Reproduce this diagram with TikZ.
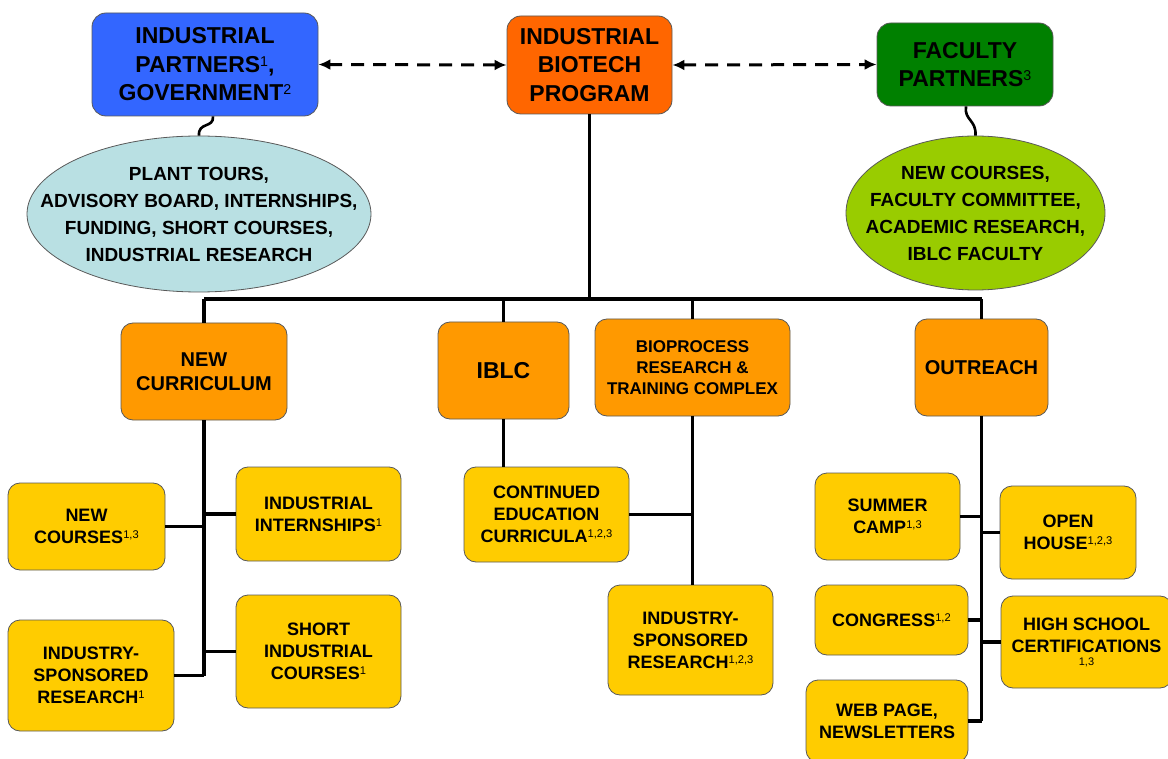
\documentclass[tikz,border=0pt]{standalone}
\usepackage{fontspec}
\setmainfont{Liberation Sans}
\usepackage{xcolor}
\usepackage{tikz}
\usetikzlibrary{shapes.geometric, arrows.meta}

\definecolor{partblue}{HTML}{3366FF}
\definecolor{progorange}{HTML}{FF6600}
\definecolor{facgreen}{HTML}{008000}
\definecolor{indcyan}{HTML}{B9E0E3}
\definecolor{faclime}{HTML}{99CC00}
\definecolor{unitorange}{HTML}{FF9900}
\definecolor{itemyellow}{HTML}{FFCC00}

\newcommand\supnum[1]{\raisebox{0.27em}{\scalebox{0.62}{\mdseries #1}}}

\begin{document}
\begin{tikzpicture}[x=1pt, y=-1pt,
    box/.style={draw=black!65, line width=0.8pt, rounded corners=12pt, align=center,
        inner sep=0pt, font=\fontsize{18}{22}\selectfont\bfseries},
    topbox/.style={box, rounded corners=14pt, font=\fontsize{23}{28.5}\selectfont\bfseries},
    unit/.style={box, fill=unitorange, font=\fontsize{20}{24}\selectfont\bfseries},
    item/.style={box, fill=itemyellow},
    bubble/.style={ellipse, draw=black!65, line width=0.8pt, inner sep=0pt},
    bubbletext/.style={align=center, inner sep=0pt, font=\fontsize{19}{27}\selectfont\bfseries},
    link/.style={line width=3.2pt},
    squig/.style={line width=2.6pt},
    both/.style={line width=3pt, dash pattern=on 13pt off 9pt,
        {Latex[length=12pt,width=11pt]}-{Latex[length=12pt,width=11pt]}}]
        \useasboundingbox (0,0) rectangle (1168,759);

        % top row
        \node[topbox, fill=partblue, minimum width=226, minimum height=103] (indpart) at (205,64.5)
            {INDUSTRIAL\\PARTNERS\supnum{1},\\GOVERNMENT\supnum{2}};
        \node[topbox, fill=progorange, minimum width=165, minimum height=98] (prog) at (589.5,65)
            {INDUSTRIAL\\BIOTECH\\PROGRAM};
        \node[topbox, fill=facgreen, minimum width=176, minimum height=83] (facpart) at (965,64.5)
            {FACULTY\\PARTNERS\supnum{3}};

        \node[bubble, fill=indcyan, minimum width=344, minimum height=156] (indroles) at (199,214) {};
        \node[bubbletext] at (indroles)
            {PLANT TOURS,\\ADVISORY BOARD, INTERNSHIPS,\\FUNDING, SHORT COURSES,\\INDUSTRIAL RESEARCH};
        \node[bubble, fill=faclime, minimum width=259, minimum height=154] (facroles) at (975.5,213) {};
        \node[bubbletext] at (facroles)
            {NEW COURSES,\\FACULTY COMMITTEE,\\ACADEMIC RESEARCH,\\IBLC FACULTY};

        % program units
        \node[unit, minimum width=166, minimum height=97] (newcur) at (204,371.5) {NEW\\CURRICULUM};
        \node[unit, minimum width=131, minimum height=97, font=\fontsize{23}{28}\selectfont\bfseries]
            (iblc) at (503.5,370.5) {IBLC};
        \node[unit, minimum width=195, minimum height=97, font=\fontsize{17}{21}\selectfont\bfseries]
            (bioproc) at (692.5,367.5) {BIOPROCESS\\RESEARCH \&\\TRAINING COMPLEX};
        \node[unit, minimum width=133, minimum height=97] (outreach) at (981.5,367.5) {OUTREACH};

        % activities
        \node[item, minimum width=157, minimum height=87] (newcourses) at (86.5,526.5)
            {NEW\\COURSES\supnum{1,3}};
        \node[item, minimum width=165, minimum height=94] (intern) at (318.5,514)
            {INDUSTRIAL\\INTERNSHIPS\supnum{1}};
        \node[item, minimum width=166, minimum height=111] (sponsA) at (91,675.5)
            {INDUSTRY-\\SPONSORED\\RESEARCH\supnum{1}};
        \node[item, minimum width=165, minimum height=113] (shortcourses) at (318.5,651.5)
            {SHORT\\INDUSTRIAL\\COURSES\supnum{1}};
        \node[item, minimum width=165, minimum height=95] (contedu) at (546.5,514.5)
            {CONTINUED\\EDUCATION\\CURRICULA\supnum{1,2,3}};
        \node[item, minimum width=165, minimum height=110] (sponsB) at (690.5,640)
            {INDUSTRY-\\SPONSORED\\RESEARCH\supnum{1,2,3}};
        \node[item, minimum width=145, minimum height=87] (camp) at (887.5,516.5)
            {SUMMER\\CAMP\supnum{1,3}};
        \node[item, minimum width=136, minimum height=93] (openhouse) at (1068,532.5)
            {OPEN\\HOUSE\supnum{1,2,3}};
        \node[item, minimum width=153, minimum height=70] (congress) at (891.5,620)
            {CONGRESS\supnum{1,2}};
        \node[item, minimum width=171, minimum height=92] (highschool) at (1086.5,642)
            {HIGH SCHOOL\\CERTIFICATIONS\\[-9pt]{\mdseries\fontsize{11}{11}\selectfont 1,3}};
        \node[item, minimum width=162, minimum height=82] (webpage) at (887,721)
            {WEB PAGE,\\NEWSLETTERS};

        % partner links
        \draw[both] (indpart.east) -- (prog.west);
        \draw[both] (prog.east) -- (facpart.west);
        \draw[squig] ([xshift=8pt]indpart.south) .. controls +(1,12) and +(-1,-14) .. (indroles.north);
        \draw[squig] ([xshift=1pt]facpart.south) .. controls +(-2,14) and +(1,-16) .. (facroles.north);

        % tree
        \coordinate (bar) at (589.5,299);
        \draw[link] (prog.south) -- (bar);
        \draw[link] (newcur.north |- bar) -- (outreach.north |- bar);
        \draw[link]
            (newcur.north) -- (newcur.north |- bar)
            (iblc.north) -- (iblc.north |- bar)
            (bioproc.north) -- (bioproc.north |- bar)
            (outreach.north) -- (outreach.north |- bar);

        \draw[link]
            (newcur.south) -- (newcur.south |- sponsA.east)
            (newcourses.east) -- (newcourses.east -| newcur.south)
            (intern.west) -- (intern.west -| newcur.south)
            (sponsA.east) -- (sponsA.east -| newcur.south)
            (shortcourses.west) -- (shortcourses.west -| newcur.south);

        \draw[link]
            (iblc.south) -- (iblc.south |- contedu.north)
            (bioproc.south) -- (bioproc.south |- sponsB.north)
            (contedu.east) -- (contedu.east -| bioproc.south);

        \draw[link]
            (outreach.south) -- (outreach.south |- webpage.east)
            (camp.east) -- (camp.east -| outreach.south)
            (openhouse.west) -- (openhouse.west -| outreach.south)
            (congress.east) -- (congress.east -| outreach.south)
            (highschool.west) -- (highschool.west -| outreach.south)
            (webpage.east) -- (webpage.east -| outreach.south);
\end{tikzpicture}
\end{document}
